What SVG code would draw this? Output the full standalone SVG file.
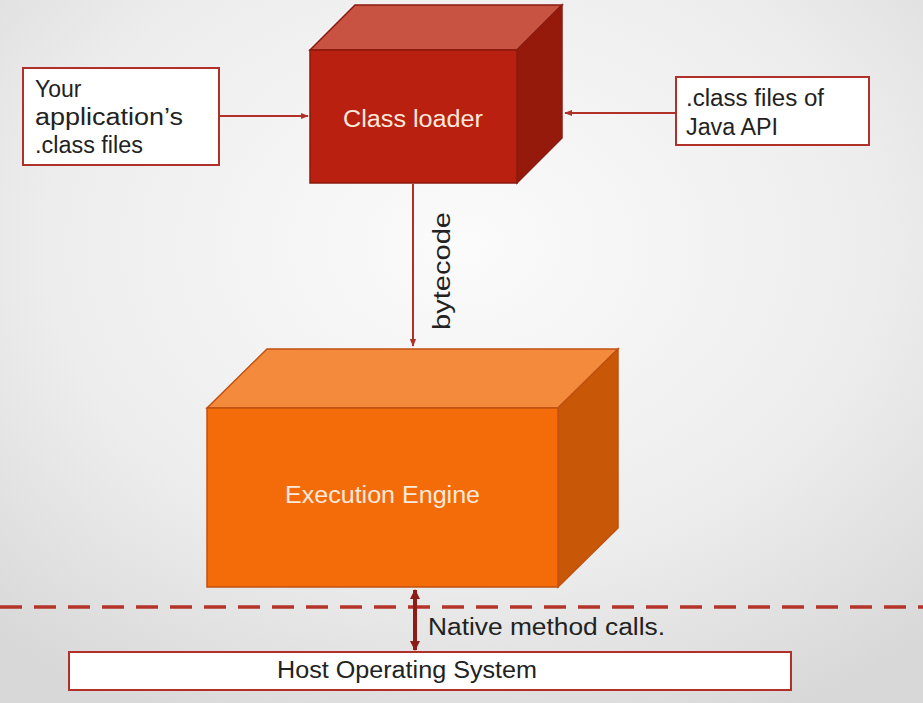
<svg xmlns="http://www.w3.org/2000/svg" width="923" height="703" viewBox="0 0 923 703">
<defs>
<radialGradient id="bg" cx="0.5" cy="0.35" r="0.75">
<stop offset="0" stop-color="#fbfbfb"/>
<stop offset="0.6" stop-color="#ededed"/>
<stop offset="1" stop-color="#d8d8d8"/>
</radialGradient>
<marker id="ah" viewBox="0 0 10 10" refX="9" refY="5" markerWidth="4" markerHeight="4" orient="auto-start-reverse">
<path d="M0,1 L10,5 L0,9 z" fill="#b0302a"/>
</marker>
<marker id="ah2" viewBox="0 0 10 10" refX="9" refY="5" markerWidth="2.6" markerHeight="2.6" orient="auto-start-reverse">
<path d="M0,0 L10,5 L0,10 z" fill="#8e1c16"/>
</marker>
</defs>
<style>
.box{fill:#fff;stroke:#b0302a;stroke-width:2}
.t{font-family:"Liberation Sans",Arial,sans-serif;font-size:23px;fill:#222}
.w{font-family:"Liberation Sans",Arial,sans-serif;font-size:23px;fill:#fbe9dc}
.c{stroke:#b0302a;stroke-width:2;fill:none}
</style>
<rect width="923" height="703" fill="url(#bg)"/>
<g id="connectors">
<line class="c" x1="219" y1="116" x2="308" y2="116" marker-end="url(#ah)"/>
<line class="c" x1="676" y1="113" x2="565" y2="113" marker-end="url(#ah)"/>
<line class="c" x1="413" y1="184" x2="413" y2="346" marker-end="url(#ah)"/>
<text class="t" transform="translate(450,271) rotate(-90)" text-anchor="middle" textLength="118" lengthAdjust="spacingAndGlyphs">bytecode</text>
<line x1="0" y1="607" x2="923" y2="607" stroke="#b5342a" stroke-width="3.5" stroke-dasharray="22,12"/>
<line x1="415" y1="590" x2="415" y2="650" stroke="#8e1c16" stroke-width="4" marker-start="url(#ah2)" marker-end="url(#ah2)"/>
<text class="t" x="428" y="635" textLength="237" lengthAdjust="spacingAndGlyphs">Native method calls.</text>
</g>
<g id="class-loader">
<polygon points="310,50 355,5 562,5 517,50" fill="#c85343" stroke="#8a1a10" stroke-width="1.5"/>
<polygon points="517,50 562,5 562,138 517,183" fill="#961a0c" stroke="#8a1a10" stroke-width="1.5"/>
<rect x="310" y="50" width="207" height="133" fill="#b9200f" stroke="#8a1a10" stroke-width="1.5"/>
<text class="w" x="343" y="127" textLength="140" lengthAdjust="spacingAndGlyphs">Class loader</text>
</g>
<g id="execution-engine">
<polygon points="207,408 267,349 618,349 558,408" fill="#f48a3c" stroke="#c05010" stroke-width="1.5"/>
<polygon points="558,408 618,349 618,528 558,587" fill="#c95708" stroke="#c05010" stroke-width="1.5"/>
<rect x="207" y="408" width="351" height="179" fill="#f46c0a" stroke="#c05010" stroke-width="1.5"/>
<text class="w" x="285" y="503" textLength="195" lengthAdjust="spacingAndGlyphs">Execution Engine</text>
</g>
<g id="app-class-files">
<rect class="box" x="23" y="68" width="196" height="97"/>
<text class="t" x="35" y="97">Your</text>
<text class="t" x="35" y="125" textLength="148" lengthAdjust="spacingAndGlyphs">application’s</text>
<text class="t" x="35" y="153" textLength="108" lengthAdjust="spacingAndGlyphs">.class files</text>
</g>
<g id="java-api">
<rect class="box" x="676" y="77" width="193" height="68"/>
<text class="t" x="686" y="106" textLength="138" lengthAdjust="spacingAndGlyphs">.class files of</text>
<text class="t" x="686" y="135" textLength="92" lengthAdjust="spacingAndGlyphs">Java API</text>
</g>
<g id="host-os">
<rect class="box" x="69" y="652" width="722" height="38"/>
<text class="t" x="277" y="678" textLength="260" lengthAdjust="spacingAndGlyphs">Host Operating System</text>
</g>
</svg>
